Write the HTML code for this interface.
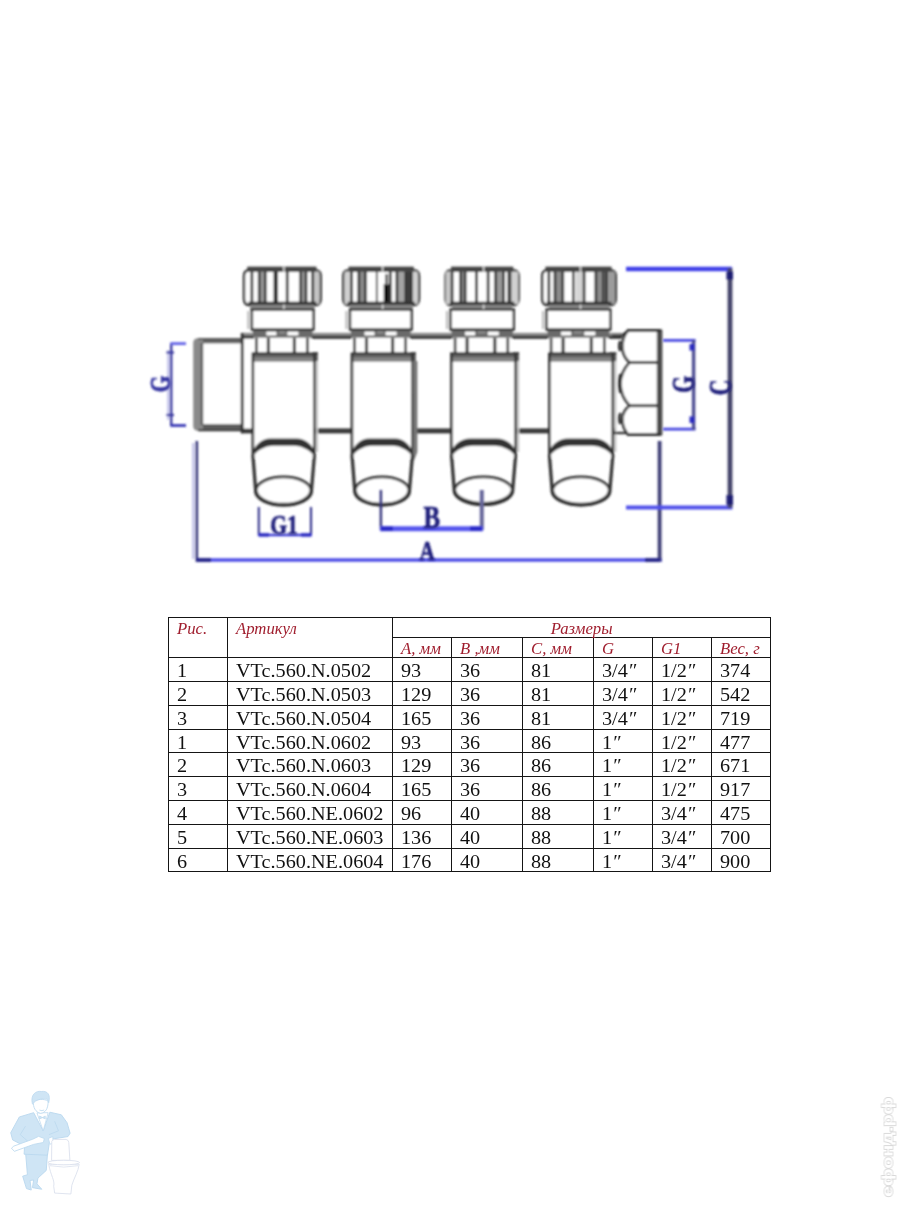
<!DOCTYPE html>
<html lang="ru">
<head>
<meta charset="utf-8">
<title>VTc.560</title>
<style>
html,body{margin:0;padding:0;background:#fff;}
body{width:904px;height:1205px;position:relative;overflow:hidden;font-family:"Liberation Serif",serif;color:#111;}
#drawing{position:absolute;left:0;top:0;width:904px;height:620px;}
#tbl{position:absolute;left:168px;top:617px;border-collapse:collapse;table-layout:fixed;width:602px;}
#tbl td,#tbl th{border:1px solid #151515;padding:0 0 0 8px;font-weight:normal;text-align:left;white-space:nowrap;overflow:visible;box-sizing:border-box;}
#tbl tbody td{height:24px;font-size:18.4px;line-height:20px;vertical-align:top;padding-top:2px;}
#tbl thead th{font-style:italic;color:#a01e2e;font-size:16px;line-height:17px;height:20px;vertical-align:top;padding-top:2px;}
#tbl thead tr.h1 th{height:20px;}
#tbl tbody tr.s td{height:23px;}
#tbl thead th.c{text-align:center;padding-left:0;}
#tbl td span{position:relative;top:1px;display:inline-block;transform:scaleX(1.1);transform-origin:0 50%;}
#tbl th span{display:inline-block;transform:scaleX(1.045);transform-origin:0 50%;}
#tbl th.c span{transform-origin:50% 50%;}
#wm{position:absolute;left:870px;top:1088px;width:30px;height:115px;}
#logo{position:absolute;left:0;top:1080px;width:100px;height:125px;}
</style>
</head>
<body>
<svg id="drawing" viewBox="0 0 904 620">
<defs><filter id="bl" x="-5%" y="-5%" width="110%" height="110%"><feGaussianBlur stdDeviation="0.85"/></filter><filter id="bl2" x="-5%" y="-5%" width="110%" height="110%"><feGaussianBlur stdDeviation="1.0"/></filter><filter id="bl3" x="-20%" y="-20%" width="140%" height="140%"><feGaussianBlur stdDeviation="0.9"/></filter></defs>
<g filter="url(#bl)">
<rect x="241.0" y="332.8" width="381.0" height="3.4" fill="#8c8c8c"/>
<rect x="241.0" y="335.8" width="381.0" height="3.0" fill="#2e2e2e"/>
<rect x="241.0" y="428.4" width="375.0" height="5.0" fill="#3a3a3a"/>
<path d="M242 338.4 L198 338.4 Q193.3 338.4 193.3 343 L193.3 426 Q193.3 430.6 198 430.6 L242 430.6 Z" fill="#fff" stroke="none" stroke-width="0.00" />
<path d="M242 338.3 L198 338.3 Q193.2 338.3 193.2 343 L193.2 426 Q193.2 430.8 198 430.8 L242 430.8 L242 424.3 L202.5 424.3 L202.5 343.6 L242 343.6 Z" fill="#8a8a8a" stroke="none" stroke-width="0.00" />
<line x1="202.0" y1="343.0" x2="202.0" y2="425.0" stroke="#555" stroke-width="2.34" />
<line x1="198.0" y1="430.2" x2="242.0" y2="430.2" stroke="#303030" stroke-width="2.08" />
<line x1="198.0" y1="338.9" x2="242.0" y2="338.9" stroke="#5a5a5a" stroke-width="1.82" />
<rect x="203.0" y="424.3" width="39.0" height="4.5" fill="#5a5a5a"/>
<rect x="203.0" y="339.2" width="39.0" height="3.6" fill="#5e5e5e"/>
<rect x="241.5" y="338.8" width="11.0" height="89.6" fill="#fff"/>
<line x1="242.2" y1="333.0" x2="242.2" y2="433.2" stroke="#303030" stroke-width="2.86" />
<rect x="252.9" y="352.5" width="61.5" height="100.0" fill="#fff"/>
<rect x="253.9" y="329.0" width="57.5" height="24.0" fill="#fff"/>
<line x1="256.4" y1="338.0" x2="256.4" y2="353.0" stroke="#303030" stroke-width="2.60" />
<line x1="268.4" y1="338.0" x2="268.4" y2="353.0" stroke="#303030" stroke-width="3.12" />
<line x1="294.4" y1="338.0" x2="294.4" y2="353.0" stroke="#303030" stroke-width="3.12" />
<line x1="307.4" y1="338.0" x2="307.4" y2="353.0" stroke="#303030" stroke-width="2.60" />
<rect x="252.9" y="329.5" width="59.5" height="8.2" fill="#6a6a6a"/>
<rect x="266.4" y="331.6" width="10.0" height="3.8" fill="#fff"/>
<rect x="287.4" y="331.6" width="11.0" height="3.8" fill="#fff"/>
<rect x="278.9" y="331.0" width="6.5" height="2.5" fill="#8a8a8a"/>
<rect x="251.9" y="352.7" width="66.0" height="8.8" fill="#5e5e5e"/>
<line x1="251.9" y1="353.2" x2="317.9" y2="353.2" stroke="#303030" stroke-width="2.08" />
<rect x="253.9" y="357.5" width="59.5" height="3.0" fill="#888"/>
<line x1="252.9" y1="353.0" x2="252.9" y2="456.0" stroke="#303030" stroke-width="2.60" />
<line x1="314.4" y1="353.0" x2="314.4" y2="456.0" stroke="#303030" stroke-width="2.60" />
<line x1="317.0" y1="361.0" x2="317.0" y2="452.0" stroke="#c4c4c4" stroke-width="2.08" />
<path d="M252.9 455.5 C253.9 446 261.9 439.6 270.6 439.4 L296.6 439.4 C305.4 439.6 313.4 446 314.4 455.5 L314.4 458 L252.9 458 Z" fill="#fff" stroke="none" stroke-width="0.00" />
<path d="M252.9 455.5 C253.9 446 261.9 439.6 270.6 439.4 L296.6 439.4 C305.4 439.6 313.4 446 314.4 455.5 C311.4 450 302.4 445.2 294.6 445 L272.6 445 C264.9 445.2 255.9 450 252.9 455.5 Z" fill="#303030" stroke="#303030" stroke-width="1.56" />
<path d="M252.9 455 Q253.4 462 255.7 491 M314.4 455 Q313.9 462 311.4 491" fill="none" stroke="#303030" stroke-width="3.25" />
<ellipse cx="283.5" cy="490.8" rx="27.6" ry="13.9" fill="#fff" stroke="#333" stroke-width="2.8"/>
<path d="M255.9 490.8 A27.6 13.9 0 0 0 311.2 490.8" fill="none" stroke="#303030" stroke-width="3.90" />
<rect x="251.9" y="309.5" width="61.5" height="20.0" fill="#fff" stroke="#303030" stroke-width="2.47"/>
<line x1="248.4" y1="311.0" x2="248.4" y2="329.0" stroke="#bdbdbd" stroke-width="2.34" />
<rect x="247.4" y="266.8" width="68.9" height="5.2" fill="#444"/>
<path d="M248.4 270.6 L316.3 270.6 Q320.7 271 320.7 276 L320.7 299 Q320.7 305.2 314.3 305.2 L250.4 305.2 Q244.0 305.2 244.0 299 L244.0 276 Q244.0 271 248.4 270.6 Z" fill="#fff" stroke="#303030" stroke-width="2.47" />
<rect x="259.2" y="271.5" width="6.1" height="32.5" fill="#9a9a9a"/>
<rect x="300.6" y="271.5" width="5.5" height="32.5" fill="#9a9a9a"/>
<rect x="273.6" y="271.5" width="4.4" height="32.5" fill="#262626"/>
<rect x="313.5" y="271.5" width="5.8" height="32.5" fill="#c4c4c4"/>
<line x1="251.9" y1="271.5" x2="251.9" y2="304.0" stroke="#303030" stroke-width="2.73" />
<line x1="259.2" y1="271.5" x2="259.2" y2="304.0" stroke="#303030" stroke-width="2.73" />
<line x1="265.3" y1="271.5" x2="265.3" y2="304.0" stroke="#303030" stroke-width="2.73" />
<line x1="287.2" y1="271.5" x2="287.2" y2="304.0" stroke="#303030" stroke-width="2.73" />
<line x1="300.6" y1="271.5" x2="300.6" y2="304.0" stroke="#303030" stroke-width="2.73" />
<line x1="306.0" y1="271.5" x2="306.0" y2="304.0" stroke="#303030" stroke-width="2.73" />
<line x1="312.7" y1="271.5" x2="312.7" y2="304.0" stroke="#303030" stroke-width="2.73" />
<rect x="247.4" y="266.8" width="68.9" height="4.8" fill="#444"/>
<rect x="250.4" y="303.2" width="63.9" height="6.4" fill="#858585"/>
<line x1="248.4" y1="303.2" x2="316.3" y2="303.2" stroke="#303030" stroke-width="2.99" />
<line x1="250.4" y1="309.4" x2="314.3" y2="309.4" stroke="#303030" stroke-width="1.95" />
<line x1="283.9" y1="266.5" x2="283.9" y2="272.0" stroke="#ddd" stroke-width="1.56" />
<line x1="283.9" y1="304.5" x2="283.9" y2="309.0" stroke="#ddd" stroke-width="1.56" />
<rect x="352.0" y="352.5" width="60.4" height="100.0" fill="#fff"/>
<rect x="352.0" y="329.0" width="57.6" height="24.0" fill="#fff"/>
<line x1="354.5" y1="338.0" x2="354.5" y2="353.0" stroke="#303030" stroke-width="2.60" />
<line x1="366.5" y1="338.0" x2="366.5" y2="353.0" stroke="#303030" stroke-width="3.12" />
<line x1="392.6" y1="338.0" x2="392.6" y2="353.0" stroke="#303030" stroke-width="3.12" />
<line x1="405.6" y1="338.0" x2="405.6" y2="353.0" stroke="#303030" stroke-width="2.60" />
<rect x="351.0" y="329.5" width="59.6" height="8.2" fill="#6a6a6a"/>
<rect x="364.5" y="331.6" width="10.0" height="3.8" fill="#fff"/>
<rect x="385.6" y="331.6" width="11.0" height="3.8" fill="#fff"/>
<rect x="377.0" y="331.0" width="6.6" height="2.5" fill="#8a8a8a"/>
<rect x="351.0" y="352.7" width="64.9" height="8.8" fill="#5e5e5e"/>
<line x1="351.0" y1="353.2" x2="415.9" y2="353.2" stroke="#303030" stroke-width="2.08" />
<rect x="353.0" y="357.5" width="58.4" height="3.0" fill="#888"/>
<line x1="352.0" y1="353.0" x2="352.0" y2="456.0" stroke="#303030" stroke-width="2.60" />
<line x1="412.4" y1="353.0" x2="412.4" y2="456.0" stroke="#303030" stroke-width="2.60" />
<path d="M412.4 361 L417.4 361 L417.4 452 L413.4 462 Z" fill="#757575" stroke="none" stroke-width="0.00" />
<path d="M352.0 455.5 C353.0 446 361.0 439.6 369.2 439.4 L395.2 439.4 C403.4 439.6 411.4 446 412.4 455.5 L412.4 458 L352.0 458 Z" fill="#fff" stroke="none" stroke-width="0.00" />
<path d="M352.0 455.5 C353.0 446 361.0 439.6 369.2 439.4 L395.2 439.4 C403.4 439.6 411.4 446 412.4 455.5 C409.4 450 400.4 445.2 393.2 445 L371.2 445 C364.0 445.2 355.0 450 352.0 455.5 Z" fill="#303030" stroke="#303030" stroke-width="1.56" />
<path d="M352.0 455 Q352.5 462 354.8 491 M412.4 455 Q411.9 462 409.4 491" fill="none" stroke="#303030" stroke-width="3.25" />
<ellipse cx="382.1" cy="490.8" rx="27.1" ry="13.9" fill="#fff" stroke="#333" stroke-width="2.8"/>
<path d="M355.0 490.8 A27.1 13.9 0 0 0 409.2 490.8" fill="none" stroke="#303030" stroke-width="3.90" />
<rect x="350.0" y="309.5" width="61.6" height="20.0" fill="#fff" stroke="#303030" stroke-width="2.47"/>
<line x1="346.5" y1="311.0" x2="346.5" y2="329.0" stroke="#bdbdbd" stroke-width="2.34" />
<rect x="348.7" y="266.8" width="64.9" height="5.2" fill="#444"/>
<path d="M347.7 270.6 L414.6 270.6 Q419.0 271 419.0 276 L419.0 299 Q419.0 305.2 412.6 305.2 L349.7 305.2 Q343.3 305.2 343.3 299 L343.3 276 Q343.3 271 347.7 270.6 Z" fill="#fff" stroke="#303030" stroke-width="2.47" />
<rect x="358.8" y="271.5" width="6.1" height="32.5" fill="#8c8c8c"/>
<rect x="396.9" y="271.5" width="8.8" height="32.5" fill="#a4a4a4"/>
<rect x="375.9" y="271.5" width="1.8" height="32.5" fill="#444"/>
<rect x="344.6" y="271.5" width="6.2" height="32.5" fill="#d0d0d0"/>
<rect x="411.9" y="271.5" width="5.8" height="32.5" fill="#d0d0d0"/>
<line x1="351.6" y1="271.5" x2="351.6" y2="304.0" stroke="#303030" stroke-width="2.73" />
<line x1="358.8" y1="271.5" x2="358.8" y2="304.0" stroke="#303030" stroke-width="2.73" />
<line x1="365.5" y1="271.5" x2="365.5" y2="304.0" stroke="#303030" stroke-width="2.73" />
<line x1="390.3" y1="271.5" x2="390.3" y2="304.0" stroke="#303030" stroke-width="2.73" />
<line x1="396.9" y1="271.5" x2="396.9" y2="304.0" stroke="#303030" stroke-width="2.73" />
<line x1="405.8" y1="271.5" x2="405.8" y2="304.0" stroke="#303030" stroke-width="2.73" />
<line x1="408.5" y1="271.5" x2="408.5" y2="304.0" stroke="#303030" stroke-width="2.73" />
<line x1="411.3" y1="271.5" x2="411.3" y2="304.0" stroke="#303030" stroke-width="2.73" />
<rect x="383.8" y="284.0" width="5.0" height="19.0" fill="#000"/>
<rect x="385.0" y="274.0" width="3.1" height="11.0" fill="#666"/>
<rect x="348.7" y="266.8" width="64.9" height="4.8" fill="#444"/>
<rect x="349.7" y="303.2" width="62.9" height="6.4" fill="#858585"/>
<line x1="347.7" y1="303.2" x2="414.6" y2="303.2" stroke="#303030" stroke-width="2.99" />
<line x1="349.7" y1="309.4" x2="412.6" y2="309.4" stroke="#303030" stroke-width="1.95" />
<line x1="382.6" y1="266.5" x2="382.6" y2="272.0" stroke="#ddd" stroke-width="1.56" />
<line x1="382.6" y1="304.5" x2="382.6" y2="309.0" stroke="#ddd" stroke-width="1.56" />
<rect x="451.5" y="352.5" width="64.1" height="100.0" fill="#fff"/>
<rect x="452.6" y="329.0" width="59.2" height="24.0" fill="#fff"/>
<line x1="455.1" y1="338.0" x2="455.1" y2="353.0" stroke="#303030" stroke-width="2.60" />
<line x1="467.1" y1="338.0" x2="467.1" y2="353.0" stroke="#303030" stroke-width="3.12" />
<line x1="494.8" y1="338.0" x2="494.8" y2="353.0" stroke="#303030" stroke-width="3.12" />
<line x1="507.8" y1="338.0" x2="507.8" y2="353.0" stroke="#303030" stroke-width="2.60" />
<rect x="451.6" y="329.5" width="61.2" height="8.2" fill="#6a6a6a"/>
<rect x="465.1" y="331.6" width="10.0" height="3.8" fill="#fff"/>
<rect x="487.8" y="331.6" width="11.0" height="3.8" fill="#fff"/>
<rect x="477.6" y="331.0" width="8.2" height="2.5" fill="#8a8a8a"/>
<rect x="450.5" y="352.7" width="68.6" height="8.8" fill="#5e5e5e"/>
<line x1="450.5" y1="353.2" x2="519.1" y2="353.2" stroke="#303030" stroke-width="2.08" />
<rect x="452.5" y="357.5" width="62.1" height="3.0" fill="#888"/>
<line x1="451.5" y1="353.0" x2="451.5" y2="456.0" stroke="#303030" stroke-width="2.60" />
<line x1="515.6" y1="353.0" x2="515.6" y2="456.0" stroke="#303030" stroke-width="2.60" />
<line x1="518.2" y1="361.0" x2="518.2" y2="452.0" stroke="#c4c4c4" stroke-width="2.08" />
<path d="M451.5 455.5 C452.5 446 460.5 439.6 470.6 439.4 L496.6 439.4 C506.6 439.6 514.6 446 515.6 455.5 L515.6 458 L451.5 458 Z" fill="#fff" stroke="none" stroke-width="0.00" />
<path d="M451.5 455.5 C452.5 446 460.5 439.6 470.6 439.4 L496.6 439.4 C506.6 439.6 514.6 446 515.6 455.5 C512.6 450 503.6 445.2 494.6 445 L472.6 445 C463.5 445.2 454.5 450 451.5 455.5 Z" fill="#303030" stroke="#303030" stroke-width="1.56" />
<path d="M451.5 455 Q452.0 462 454.3 491 M515.6 455 Q515.1 462 512.6 491" fill="none" stroke="#303030" stroke-width="3.25" />
<ellipse cx="483.4" cy="490.8" rx="29.0" ry="13.9" fill="#fff" stroke="#333" stroke-width="2.8"/>
<path d="M454.5 490.8 A29.0 13.9 0 0 0 512.4 490.8" fill="none" stroke="#303030" stroke-width="3.90" />
<rect x="450.6" y="309.5" width="63.2" height="20.0" fill="#fff" stroke="#303030" stroke-width="2.47"/>
<line x1="447.1" y1="311.0" x2="447.1" y2="329.0" stroke="#bdbdbd" stroke-width="2.34" />
<rect x="451.0" y="266.8" width="62.2" height="5.2" fill="#444"/>
<path d="M450.0 270.6 L514.2 270.6 Q518.6 271 518.6 276 L518.6 299 Q518.6 305.2 512.2 305.2 L452.0 305.2 Q445.6 305.2 445.6 299 L445.6 276 Q445.6 271 450.0 270.6 Z" fill="#fff" stroke="#303030" stroke-width="2.47" />
<rect x="445.7" y="271.5" width="5.8" height="32.5" fill="#c8c8c8"/>
<rect x="460.8" y="271.5" width="3.9" height="32.5" fill="#909090"/>
<rect x="475.1" y="271.5" width="2.7" height="32.5" fill="#2a2a2a"/>
<rect x="495.8" y="271.5" width="6.5" height="32.5" fill="#9a9a9a"/>
<rect x="508.8" y="271.5" width="3.3" height="32.5" fill="#7a7a7a"/>
<rect x="512.5" y="271.5" width="5.6" height="32.5" fill="#d0d0d0"/>
<line x1="452.1" y1="271.5" x2="452.1" y2="304.0" stroke="#303030" stroke-width="2.73" />
<line x1="460.6" y1="271.5" x2="460.6" y2="304.0" stroke="#303030" stroke-width="2.73" />
<line x1="465.2" y1="271.5" x2="465.2" y2="304.0" stroke="#303030" stroke-width="2.73" />
<line x1="488.1" y1="271.5" x2="488.1" y2="304.0" stroke="#303030" stroke-width="2.73" />
<line x1="495.5" y1="271.5" x2="495.5" y2="304.0" stroke="#303030" stroke-width="2.73" />
<line x1="503.6" y1="271.5" x2="503.6" y2="304.0" stroke="#303030" stroke-width="2.73" />
<line x1="508.8" y1="271.5" x2="508.8" y2="304.0" stroke="#303030" stroke-width="2.73" />
<rect x="451.0" y="266.8" width="62.2" height="4.8" fill="#444"/>
<rect x="452.0" y="303.2" width="60.2" height="6.4" fill="#858585"/>
<line x1="450.0" y1="303.2" x2="514.2" y2="303.2" stroke="#303030" stroke-width="2.99" />
<line x1="452.0" y1="309.4" x2="512.2" y2="309.4" stroke="#303030" stroke-width="1.95" />
<line x1="483.6" y1="266.5" x2="483.6" y2="272.0" stroke="#ddd" stroke-width="1.56" />
<line x1="483.6" y1="304.5" x2="483.6" y2="309.0" stroke="#ddd" stroke-width="1.56" />
<rect x="549.4" y="352.5" width="63.4" height="100.0" fill="#fff"/>
<rect x="548.6" y="329.0" width="59.7" height="24.0" fill="#fff"/>
<line x1="551.1" y1="338.0" x2="551.1" y2="353.0" stroke="#303030" stroke-width="2.60" />
<line x1="563.1" y1="338.0" x2="563.1" y2="353.0" stroke="#303030" stroke-width="3.12" />
<line x1="591.3" y1="338.0" x2="591.3" y2="353.0" stroke="#303030" stroke-width="3.12" />
<line x1="604.3" y1="338.0" x2="604.3" y2="353.0" stroke="#303030" stroke-width="2.60" />
<rect x="547.6" y="329.5" width="61.7" height="8.2" fill="#6a6a6a"/>
<rect x="561.1" y="331.6" width="10.0" height="3.8" fill="#fff"/>
<rect x="584.3" y="331.6" width="11.0" height="3.8" fill="#fff"/>
<rect x="573.6" y="331.0" width="8.7" height="2.5" fill="#8a8a8a"/>
<rect x="548.4" y="352.7" width="67.9" height="8.8" fill="#5e5e5e"/>
<line x1="548.4" y1="353.2" x2="616.3" y2="353.2" stroke="#303030" stroke-width="2.08" />
<rect x="550.4" y="357.5" width="61.4" height="3.0" fill="#888"/>
<line x1="549.4" y1="353.0" x2="549.4" y2="456.0" stroke="#303030" stroke-width="2.60" />
<line x1="612.8" y1="353.0" x2="612.8" y2="456.0" stroke="#303030" stroke-width="2.60" />
<line x1="615.4" y1="361.0" x2="615.4" y2="452.0" stroke="#c4c4c4" stroke-width="2.08" />
<path d="M549.4 455.5 C550.4 446 558.4 439.6 568.1 439.4 L594.1 439.4 C603.8 439.6 611.8 446 612.8 455.5 L612.8 458 L549.4 458 Z" fill="#fff" stroke="none" stroke-width="0.00" />
<path d="M549.4 455.5 C550.4 446 558.4 439.6 568.1 439.4 L594.1 439.4 C603.8 439.6 611.8 446 612.8 455.5 C609.8 450 600.8 445.2 592.1 445 L570.1 445 C561.4 445.2 552.4 450 549.4 455.5 Z" fill="#303030" stroke="#303030" stroke-width="1.56" />
<path d="M549.4 455 Q549.9 462 552.2 491 M612.8 455 Q612.3 462 609.8 491" fill="none" stroke="#303030" stroke-width="3.25" />
<ellipse cx="581.0" cy="490.8" rx="28.6" ry="13.9" fill="#fff" stroke="#333" stroke-width="2.8"/>
<path d="M552.4 490.8 A28.6 13.9 0 0 0 609.6 490.8" fill="none" stroke="#303030" stroke-width="3.90" />
<rect x="546.6" y="309.5" width="63.7" height="20.0" fill="#fff" stroke="#303030" stroke-width="2.47"/>
<line x1="543.1" y1="311.0" x2="543.1" y2="329.0" stroke="#bdbdbd" stroke-width="2.34" />
<rect x="545.6" y="266.8" width="65.8" height="5.2" fill="#444"/>
<path d="M546.6 270.6 L611.4 270.6 Q615.8 271 615.8 276 L615.8 299 Q615.8 305.2 609.4 305.2 L548.6 305.2 Q542.2 305.2 542.2 299 L542.2 276 Q542.2 271 546.6 270.6 Z" fill="#fff" stroke="#303030" stroke-width="2.47" />
<rect x="554.9" y="271.5" width="7.3" height="32.5" fill="#8c8c8c"/>
<rect x="572.0" y="271.5" width="2.5" height="32.5" fill="#2a2a2a"/>
<rect x="575.6" y="271.5" width="7.3" height="32.5" fill="#d6d6d6"/>
<rect x="596.4" y="271.5" width="6.7" height="32.5" fill="#8c8c8c"/>
<rect x="606.7" y="271.5" width="8.2" height="32.5" fill="#9c9c9c"/>
<line x1="548.9" y1="271.5" x2="548.9" y2="304.0" stroke="#303030" stroke-width="2.73" />
<line x1="554.9" y1="271.5" x2="554.9" y2="304.0" stroke="#303030" stroke-width="2.73" />
<line x1="562.8" y1="271.5" x2="562.8" y2="304.0" stroke="#303030" stroke-width="2.73" />
<line x1="584.1" y1="271.5" x2="584.1" y2="304.0" stroke="#303030" stroke-width="2.73" />
<line x1="595.8" y1="271.5" x2="595.8" y2="304.0" stroke="#303030" stroke-width="2.73" />
<line x1="603.3" y1="271.5" x2="603.3" y2="304.0" stroke="#303030" stroke-width="2.73" />
<line x1="606.4" y1="271.5" x2="606.4" y2="304.0" stroke="#303030" stroke-width="2.73" />
<rect x="545.6" y="266.8" width="65.8" height="4.8" fill="#444"/>
<rect x="548.6" y="303.2" width="60.8" height="6.4" fill="#858585"/>
<line x1="546.6" y1="303.2" x2="611.4" y2="303.2" stroke="#303030" stroke-width="2.99" />
<line x1="548.6" y1="309.4" x2="609.4" y2="309.4" stroke="#303030" stroke-width="1.95" />
<line x1="580.5" y1="266.5" x2="580.5" y2="272.0" stroke="#ddd" stroke-width="1.56" />
<line x1="580.5" y1="304.5" x2="580.5" y2="309.0" stroke="#ddd" stroke-width="1.56" />
<path d="M628 330.2 L660 330.2 L660 434.8 L628 434.8 C620.5 425 620 413 629.5 405.7 C617.5 392 617.5 376 629.5 362.5 C620 354 620.5 340 628 330.2 Z" fill="#fff" stroke="#303030" stroke-width="2.60" />
<rect x="656.8" y="329.8" width="5.6" height="105.4" fill="#4c4c4c"/>
<line x1="629.5" y1="362.5" x2="658.0" y2="362.5" stroke="#303030" stroke-width="2.86" />
<line x1="629.5" y1="405.7" x2="658.0" y2="405.7" stroke="#303030" stroke-width="2.86" />
<line x1="627.0" y1="330.5" x2="661.0" y2="330.5" stroke="#303030" stroke-width="3.12" />
<line x1="627.0" y1="434.5" x2="661.0" y2="434.5" stroke="#303030" stroke-width="3.12" />
<path d="M620.4 341 Q618.2 346.0 620.4 351" fill="none" stroke="#303030" stroke-width="2.86" />
<path d="M620.4 374 Q618.2 383.5 620.4 393" fill="none" stroke="#303030" stroke-width="2.86" />
<path d="M620.4 413 Q618.2 418.5 620.4 424" fill="none" stroke="#303030" stroke-width="2.86" />
<path d="M612 336 L621 336 L628 331" fill="none" stroke="#303030" stroke-width="2.60" />
<line x1="613.0" y1="433.0" x2="628.0" y2="433.0" stroke="#303030" stroke-width="2.34" />
</g>
<g filter="url(#bl2)">
<line x1="193.3" y1="443.0" x2="193.3" y2="559.0" stroke="#c2c2e8" stroke-width="2.60" />
<line x1="196.8" y1="441.0" x2="196.8" y2="561.5" stroke="#2e2e78" stroke-width="2.60" />
<line x1="196.0" y1="560.0" x2="662.0" y2="560.0" stroke="#4c4ce6" stroke-width="3.60" />
<line x1="659.6" y1="441.0" x2="659.6" y2="561.5" stroke="#3c3c74" stroke-width="3.80" />
<rect x="196.0" y="558.0" width="15.0" height="4.0" fill="#26268a"/>
<rect x="645.0" y="558.0" width="15.0" height="4.0" fill="#26268a"/>
<line x1="380.9" y1="490.0" x2="380.9" y2="530.0" stroke="#33337a" stroke-width="2.40" />
<line x1="481.8" y1="490.0" x2="481.8" y2="530.0" stroke="#66669a" stroke-width="4.00" />
<line x1="380.0" y1="528.8" x2="483.0" y2="528.8" stroke="#5656ee" stroke-width="5.00" />
<rect x="381.0" y="526.4" width="12.0" height="4.6" fill="#2a2ac8"/>
<rect x="470.0" y="526.4" width="12.0" height="4.6" fill="#2a2ac8"/>
<line x1="258.8" y1="507.0" x2="258.8" y2="536.0" stroke="#2c2c86" stroke-width="2.00" />
<line x1="311.0" y1="507.0" x2="311.0" y2="536.0" stroke="#2c2c86" stroke-width="2.00" />
<line x1="258.0" y1="535.0" x2="312.0" y2="535.0" stroke="#3c3cd6" stroke-width="2.40" />
<rect x="259.0" y="533.2" width="10.0" height="3.4" fill="#2a2ac0"/>
<rect x="301.0" y="533.2" width="10.0" height="3.4" fill="#2a2ac0"/>
<line x1="171.2" y1="343.0" x2="171.2" y2="426.0" stroke="#3a3aa0" stroke-width="2.40" />
<line x1="168.3" y1="350.0" x2="168.3" y2="420.0" stroke="#b0b0e4" stroke-width="1.80" />
<line x1="170.5" y1="343.6" x2="186.0" y2="343.6" stroke="#6262e6" stroke-width="2.80" />
<line x1="170.5" y1="425.5" x2="186.0" y2="425.5" stroke="#3434b4" stroke-width="2.80" />
<line x1="166.5" y1="352.5" x2="174.0" y2="352.5" stroke="#3a3aa0" stroke-width="2.20" />
<line x1="166.5" y1="415.0" x2="174.0" y2="415.0" stroke="#3a3aa0" stroke-width="2.20" />
<line x1="663.0" y1="340.3" x2="695.5" y2="340.3" stroke="#4444e0" stroke-width="2.80" />
<line x1="663.0" y1="429.2" x2="695.5" y2="429.2" stroke="#4444e0" stroke-width="2.80" />
<line x1="693.6" y1="340.0" x2="693.6" y2="430.0" stroke="#4c4c92" stroke-width="3.40" />
<rect x="689.5" y="344.0" width="5.0" height="6.5" fill="#2a2ac0"/>
<rect x="689.5" y="416.5" width="5.0" height="6.5" fill="#2a2ac0"/>
<line x1="626.0" y1="269.0" x2="732.0" y2="269.0" stroke="#4040e8" stroke-width="4.40" />
<line x1="626.0" y1="507.4" x2="732.4" y2="507.4" stroke="#5050ea" stroke-width="4.00" />
<line x1="730.0" y1="268.0" x2="730.0" y2="508.0" stroke="#45446a" stroke-width="4.80" />
<rect x="726.5" y="271.5" width="6.5" height="8.0" fill="#1c1c72"/>
<rect x="726.5" y="495.0" width="6.5" height="10.0" fill="#1c1c72"/>
</g>
<g filter="url(#bl3)" font-family="Liberation Serif, serif" font-weight="bold" fill="#1f1f7a" stroke="#1f1f7a" stroke-width="0.7">
<text transform="translate(270.3,534.3) scale(0.8,1)" font-size="27">G1</text>
<text transform="translate(423.5,528) scale(0.8,1)" font-size="31">B</text>
<text transform="translate(419.5,560) scale(0.76,1)" font-size="28">A</text>
<text transform="translate(170,392.2) rotate(-90) scale(0.72,1)" font-size="29.5" fill="#3434a0" stroke="#3434a0" stroke-width="0.9">G</text>
<text transform="translate(693.8,392.8) rotate(-90) scale(0.7,1)" font-size="31">G</text>
<text transform="translate(730.5,395.3) rotate(-90) scale(0.7,1)" font-size="31">C</text>
</g>
</svg>
<table id="tbl">
<colgroup><col style="width:59px"><col style="width:165.4px"><col style="width:58.6px"><col style="width:71.4px"><col style="width:70.8px"><col style="width:58.9px"><col style="width:59.3px"><col style="width:58.3px"></colgroup>
<thead>
<tr class="h1"><th rowspan="2"><span>Рис.</span></th><th rowspan="2"><span>Артикул</span></th><th colspan="6" class="c"><span>Размеры</span></th></tr>
<tr class="h2"><th><span>А, мм</span></th><th><span>В ,мм</span></th><th><span>С, мм</span></th><th><span>G</span></th><th><span>G1</span></th><th><span>Вес, г</span></th></tr>
</thead>
<tbody>
<tr><td><span>1</span></td><td><span>VTc.560.N.0502</span></td><td><span>93</span></td><td><span>36</span></td><td><span>81</span></td><td><span>3/4<i>″</i></span></td><td><span>1/2<i>″</i></span></td><td><span>374</span></td></tr>
<tr><td><span>2</span></td><td><span>VTc.560.N.0503</span></td><td><span>129</span></td><td><span>36</span></td><td><span>81</span></td><td><span>3/4<i>″</i></span></td><td><span>1/2<i>″</i></span></td><td><span>542</span></td></tr>
<tr><td><span>3</span></td><td><span>VTc.560.N.0504</span></td><td><span>165</span></td><td><span>36</span></td><td><span>81</span></td><td><span>3/4<i>″</i></span></td><td><span>1/2<i>″</i></span></td><td><span>719</span></td></tr>
<tr class="s"><td><span>1</span></td><td><span>VTc.560.N.0602</span></td><td><span>93</span></td><td><span>36</span></td><td><span>86</span></td><td><span>1<i>″</i></span></td><td><span>1/2<i>″</i></span></td><td><span>477</span></td></tr>
<tr><td><span>2</span></td><td><span>VTc.560.N.0603</span></td><td><span>129</span></td><td><span>36</span></td><td><span>86</span></td><td><span>1<i>″</i></span></td><td><span>1/2<i>″</i></span></td><td><span>671</span></td></tr>
<tr><td><span>3</span></td><td><span>VTc.560.N.0604</span></td><td><span>165</span></td><td><span>36</span></td><td><span>86</span></td><td><span>1<i>″</i></span></td><td><span>1/2<i>″</i></span></td><td><span>917</span></td></tr>
<tr><td><span>4</span></td><td><span>VTc.560.NE.0602</span></td><td><span>96</span></td><td><span>40</span></td><td><span>88</span></td><td><span>1<i>″</i></span></td><td><span>3/4<i>″</i></span></td><td><span>475</span></td></tr>
<tr><td><span>5</span></td><td><span>VTc.560.NE.0603</span></td><td><span>136</span></td><td><span>40</span></td><td><span>88</span></td><td><span>1<i>″</i></span></td><td><span>3/4<i>″</i></span></td><td><span>700</span></td></tr>
<tr class="s"><td><span>6</span></td><td><span>VTc.560.NE.0604</span></td><td><span>176</span></td><td><span>40</span></td><td><span>88</span></td><td><span>1<i>″</i></span></td><td><span>3/4<i>″</i></span></td><td><span>900</span></td></tr>
</tbody>
</table>
<svg id="wm" viewBox="0 0 30 115"><defs><filter id="wb" x="-20%" y="-20%" width="140%" height="140%"><feGaussianBlur stdDeviation="0.55"/></filter></defs><text transform="translate(22.5,109) rotate(-90)" font-family="Liberation Sans, sans-serif" font-size="15" font-weight="bold" textLength="100" lengthAdjust="spacingAndGlyphs" fill="#fff" stroke="#d8d8d8" stroke-width="1.5" paint-order="stroke" filter="url(#wb)">ефонд.рф</text></svg>
<svg id="logo" viewBox="0 0 100 125">
<defs><filter id="lb" x="-10%" y="-10%" width="120%" height="120%"><feGaussianBlur stdDeviation="4.5"/></filter></defs>
<g transform="translate(5,5) scale(0.09547)" filter="url(#lb)" stroke-linejoin="round">
<path d="M215 700 L235 940 L185 955 L225 1085 L275 1100 L262 1000 L300 995 L288 1075 L385 1092 L335 1035 L345 975 L432 895 L445 720 Z" fill="#cfe5f5" stroke="#bcd9ef" stroke-width="10"/>
<path d="M300 290 L150 335 L60 500 L80 575 L205 640 L200 725 L445 735 L470 570 L660 540 L682 505 L650 395 L590 312 L470 285 L400 480 Z" fill="#cfe5f5" stroke="#bcd9ef" stroke-width="10"/>
<path d="M335 292 L400 480 L452 290 Z" fill="#fff" stroke="#bcd9ef" stroke-width="8"/>
<path d="M215 430 L160 520 L240 590 M520 380 L560 480 L460 520" fill="none" stroke="#bcd9ef" stroke-width="9"/>
<path d="M298 170 C292 235 320 285 372 297 C425 290 452 250 452 168 C400 140 340 150 298 170 Z" fill="#fff" stroke="#bcd9ef" stroke-width="9"/>
<path d="M287 200 C262 95 330 58 380 68 C445 58 480 100 458 185 L445 150 C400 138 350 148 318 170 Z" fill="#cfe5f5" stroke="#bcd9ef" stroke-width="8"/>
<path d="M362 325 L392 340 L422 325 L422 355 L392 342 L362 355 Z M360 262 Q385 275 410 262" fill="#cfe5f5" stroke="#bcd9ef" stroke-width="7"/>
<path d="M68 662 L98 695 L300 622 L402 602 L412 560 L352 538 L290 568 L92 640 Z" fill="#fff" stroke="#bcd9ef" stroke-width="9"/>
<path d="M455 560 L470 620 L505 610 L500 540 Z" fill="#fff" stroke="#bcd9ef" stroke-width="8"/>
<path d="M490 590 Q495 572 520 570 L640 570 Q665 575 668 600 L680 790 L488 790 Z" fill="#fff" stroke="#d9dfec" stroke-width="9"/>
<path d="M458 830 C478 950 525 1000 510 1060 L520 1132 L690 1142 L700 1050 C720 980 770 900 777 830 Z" fill="#fff" stroke="#d9dfec" stroke-width="9"/>
<ellipse cx="615" cy="812" rx="166" ry="24" fill="#fff" stroke="#d9dfec" stroke-width="9"/>
<path d="M470 845 Q615 875 765 845" fill="none" stroke="#d9dfec" stroke-width="8"/>
</g>
</svg>
</body>
</html>
